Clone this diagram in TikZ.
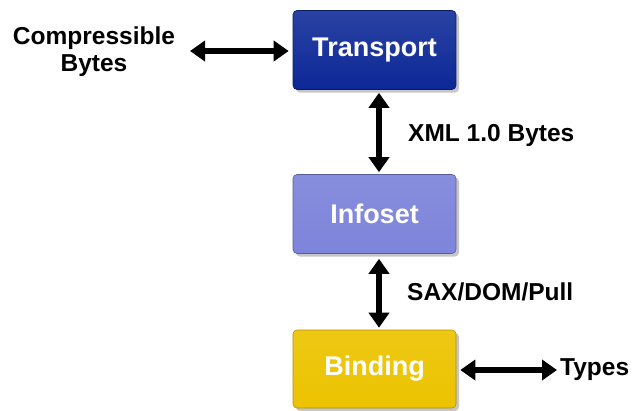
\documentclass[tikz,border=0pt]{standalone}
\usepackage{fontspec}
\setmainfont{Liberation Sans}
\usetikzlibrary{arrows.meta,shadows}

\definecolor{tpblue}{RGB}{12,40,150}
\definecolor{isblue}{RGB}{125,132,218}
\definecolor{bdgold}{RGB}{236,195,0}

\tikzset{
    layer/.style={rounded corners=4pt, minimum width=163pt, minimum height=79pt,
        text=white, font=\fontsize{27}{27}\selectfont\bfseries, line width=0.6pt,
        drop shadow={shadow xshift=3pt, shadow yshift=-3pt, opacity=0.45}},
    lbl/.style={font=\fontsize{24.5}{27}\selectfont\bfseries, inner sep=0pt},
    fatarrow/.style={line width=6.5pt,
        {Triangle[length=15pt,width=20pt]}-{Triangle[length=15pt,width=20pt]}}
}

\begin{document}
\begin{tikzpicture}[x=1pt,y=-1pt]
            \useasboundingbox (0,0) rectangle (636,410);
            \node[layer, draw=tpblue!70!black, top color=tpblue!88!white, bottom color=tpblue] (transport) at (374.5,50){Transport};
            \node[layer, draw=isblue!70!black, top color=isblue!92!white, bottom color=isblue] (infoset) at (374.5,214){Infoset};
            \node[layer, minimum height=78pt, draw=bdgold!75!black, top color=bdgold!92!white, bottom color=bdgold] (binding) at (374.5,369){Binding};
            \node[lbl, align=center] (compr) at (94,52){Compressible\\Bytes};
            \node[lbl, anchor=west] (xml) at (408,135){XML 1.0 Bytes};
            \node[lbl, anchor=west] (sax) at (407,292){SAX/DOM/Pull};
            \node[lbl, anchor=west] (types) at (560,370){Types};
            \draw[fatarrow] (190,51) -- ([xshift=-4pt]transport.west |- 0,51);
            \draw[fatarrow] ([xshift=4.5pt,yshift=-3pt]transport.south) -- ([xshift=4.5pt,yshift=2pt]infoset.north);
            \draw[fatarrow] ([xshift=4.5pt,yshift=-5pt]infoset.south) -- ([xshift=4.5pt,yshift=2pt]binding.north);
            \draw[fatarrow] ([xshift=4pt]binding.east |- 0,370) -- ([xshift=-3pt]types.west);
        \end{tikzpicture}
\end{document}
